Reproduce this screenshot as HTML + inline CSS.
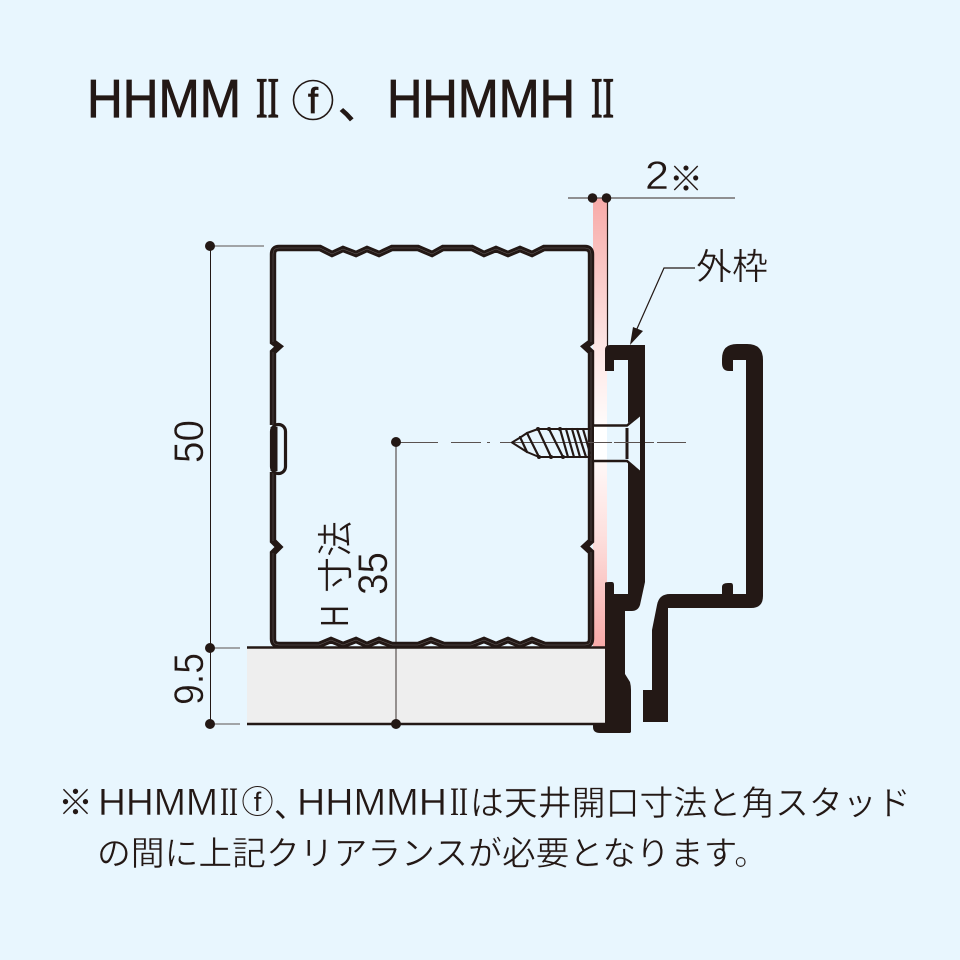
<!DOCTYPE html>
<html><head><meta charset="utf-8"><style>
html,body{margin:0;padding:0;background:#e8f6fe}
svg{display:block}
text{fill:#231815;font-family:"Liberation Sans","Noto Sans CJK JP",sans-serif}
.j{font-family:"Noto Sans CJK JP","Liberation Sans",sans-serif}
.r{font-family:"Liberation Serif",serif}
.t{stroke:#e8f6fe;stroke-width:.45px}
.b{stroke:#231815;stroke-width:.8px}
</style></head><body>
<svg width="960" height="960" viewBox="0 0 960 960" xmlns="http://www.w3.org/2000/svg">
<defs><linearGradient id="p" gradientUnits="userSpaceOnUse" x1="0" y1="198" x2="0" y2="647">
<stop offset="0" stop-color="#f7aaa8"/><stop offset=".33" stop-color="#fde6e4"/><stop offset=".54" stop-color="#ffffff"/><stop offset=".75" stop-color="#fde0de"/><stop offset="1" stop-color="#f7aaa8"/></linearGradient></defs>
<rect width="960" height="960" fill="#e8f6fe"/>

<!-- title -->
<text class="b" x="87" y="117" font-size="54" textLength="154" lengthAdjust="spacingAndGlyphs">HHMM</text>
<text class="r" x="256" y="117" font-size="57" textLength="23" lengthAdjust="spacingAndGlyphs" stroke="#231815" stroke-width="1.2">II</text>
<circle cx="313" cy="100" r="19.5" fill="none" stroke="#231815" stroke-width="1.6"/>
<text class="b" x="313" y="113" font-size="36" text-anchor="middle">f</text>
<text class="j" x="338" y="118" font-size="44" stroke="#231815" stroke-width=".8">、</text>
<text class="b" x="387" y="117" font-size="54" textLength="188" lengthAdjust="spacingAndGlyphs">HHMMH</text>
<text class="r" x="591" y="117" font-size="57" textLength="23" lengthAdjust="spacingAndGlyphs" stroke="#231815" stroke-width="1.2">II</text>

<!-- board -->
<rect x="247" y="647" width="358" height="77" fill="#eeeeee"/>

<!-- pink clearance -->
<rect x="593" y="198" width="14" height="449" fill="url(#p)"/>
<path d="M607.5 198V347" stroke="#231815" stroke-width="1.2"/>

<!-- dims -->
<g stroke="#231815" fill="none">
<path d="M210.5 246V724" stroke-width="1"/>
<path d="M210 246H264M210 648H240M210 724H240" stroke="#5a5250" stroke-width="1"/>
<path d="M568 198H735" stroke="#5a5250" stroke-width="1.2"/>
<path d="M396 442V724" stroke="#5a5250" stroke-width="1.2"/>
<path d="M396 442.5H438M451 442.5H481M487 442.5H490M500 442.5H612M614 442.5H654M657 442.5H686" stroke="#5a5250" stroke-width="1"/>
<path d="M695 268H664L636 331" stroke-width="1.2"/>
</g>
<g fill="#231815">
<circle cx="210" cy="246" r="5"/><circle cx="210" cy="648" r="5"/><circle cx="210" cy="724" r="5"/>
<circle cx="396" cy="442" r="5"/><circle cx="396" cy="724" r="5"/>
<circle cx="592.5" cy="198" r="4.8"/><circle cx="606.5" cy="198" r="4.8"/>
<polygon points="630,345 633,327 643,331"/>
</g>

<!-- board lines -->
<path d="M247 647.5H605M247 724H605" stroke="#231815" stroke-width="2.6" fill="none"/>

<!-- stud -->
<path d="M273 425V352L279 346.5L273 342V254Q273 248 279 248H320L332 254L343 249L356 254L367 249L379 254L392 248H418L432 254L443 248H472L484 254L496 249L508 254L520 249L532 254L544 248H585Q591 248 591 254V342L585 346.5L591 352V541L585 546.5L591 552V639Q591 645 585 645H545L532 640L520 645L508 640L496 645L484 640L471 645H444L431 640L418 645H392L379 640L367 645L356 640L343 645L331 640L319 645H279Q273 645 273 639V553L279 547L273 541V472" fill="none" stroke="#231815" stroke-width="6.4" stroke-linejoin="miter"/>
<path d="M273 425V352M273 342V254Q273 248 279 248H320L332 254L343 249L356 254L367 249L379 254L392 248H418L432 254L443 248H472L484 254L496 249L508 254L520 249L532 254L544 248H585Q591 248 591 254V342M591 352V541M591 552V639Q591 645 585 645H545L532 640L520 645L508 640L496 645L484 640L471 645H444L431 640L418 645H392L379 640L367 645L356 640L343 645L331 640L319 645H279Q273 645 273 639V553M273 541V472" fill="none" stroke="#6a6260" stroke-width=".5"/>
<rect x="271.5" y="424.5" width="14" height="49" rx="7" fill="#e8f6fe" stroke="#231815" stroke-width="3.2"/>
<path d="M274 427V471" stroke="#231815" stroke-width="7"/>

<!-- frames -->
<path fill="#231815" d="M610 345H645V582L640 605Q638 611 632 611H625V674L630 682Q631 686 631 690V732L630 733H600Q593 733 593 727V724H605V583Q605 582 609 582H612Q614 582 614 585V594H628V360H614V371H605V350Q605 345 610 345Z"/>
<path fill="#231815" d="M737 344H747Q763 344 763 360V596Q763 608 751 608H668V722H643V690H652V630L657 605Q659 594 670 594H722V587Q722 583 728 583H731Q733 583 733 586V594H746V360H733V371H729Q722 371 722 363V359Q722 344 737 344Z"/>

<!-- screw head cutout -->
<polygon points="628,423 640,415 640,472 628,461" fill="#e8f6fe"/>
<rect x="594" y="425" width="13" height="36" fill="#fff"/>
<rect x="607" y="425" width="21" height="36" fill="#e8f6fe"/>
<path d="M593 425.5H627L640 415M593 461H627L640 472" fill="none" stroke="#231815" stroke-width="2.4"/>
<path d="M627 428V459" stroke="#231815" stroke-width="3"/>
<rect x="640" y="407" width="5" height="71" fill="#231815"/>
<path d="M500 442.5H640" stroke="#5a5250" stroke-width="1" stroke-dasharray="112 2 40 3"/>

<!-- screw -->
<g fill="none" stroke="#231815" stroke-linecap="round" stroke-linejoin="round">
<path d="M512 442.5L521 437L527 433L538 429H590M512 442.5L527 452L539 457H590" stroke-width="2"/>
<path d="M520 437L527 452M527 433L539 457M538 429L551 457M549 429L563 457M560 429L568 457M566 429L574 457M572 429L580 457M577 429L586 457M583 429L590 453" stroke-width="2.2"/>
</g>
<g fill="#231815"><circle cx="538" cy="429" r="2"/><circle cx="549" cy="429" r="2"/><circle cx="560" cy="429" r="2"/><circle cx="539" cy="457" r="2"/><circle cx="551" cy="457" r="2"/><circle cx="563" cy="457" r="2"/></g>

<!-- dimension text -->
<text class="t" x="645" y="189" font-size="40" textLength="24" lengthAdjust="spacingAndGlyphs">2</text>
<text class="j" x="669" y="191" font-size="34">※</text>
<text class="j t" x="696" y="279" font-size="36">外枠</text>
<text class="t" transform="translate(203,463) rotate(-90)" font-size="42" textLength="43" lengthAdjust="spacingAndGlyphs">50</text>
<text class="t" transform="translate(203,705) rotate(-90)" font-size="42" textLength="52" lengthAdjust="spacingAndGlyphs">9.5</text>
<text class="t" transform="translate(348,627) rotate(-90)" font-size="40" textLength="22" lengthAdjust="spacingAndGlyphs">H</text>
<text class="j t" transform="translate(348,593) rotate(-90)" font-size="36">寸法</text>
<text class="t" transform="translate(387,595) rotate(-90)" font-size="42" textLength="43" lengthAdjust="spacingAndGlyphs">35</text>

<!-- note -->
<text class="j" x="58" y="815" font-size="35">※</text>
<text class="t" x="98" y="815" font-size="38" textLength="120" lengthAdjust="spacingAndGlyphs">HHMM</text>
<text class="r" x="220" y="815" font-size="40" textLength="18" lengthAdjust="spacingAndGlyphs">II</text>
<circle cx="257.5" cy="801" r="14.5" fill="none" stroke="#231815" stroke-width="1"/>
<text x="257.5" y="811" font-size="27" text-anchor="middle">f</text>
<text class="j" x="274" y="817" font-size="32">、</text>
<text class="t" x="297" y="815" font-size="38" textLength="150" lengthAdjust="spacingAndGlyphs">HHMMH</text>
<text class="r" x="450" y="815" font-size="40" textLength="18" lengthAdjust="spacingAndGlyphs">II</text>
<text class="j t" x="470" y="815" font-size="33.9">は天井開口寸法と角スタッド</text>
<text class="j t" x="97" y="865" font-size="33.8">の間に上記クリアランスが必要となります。</text>
</svg>
</body></html>
